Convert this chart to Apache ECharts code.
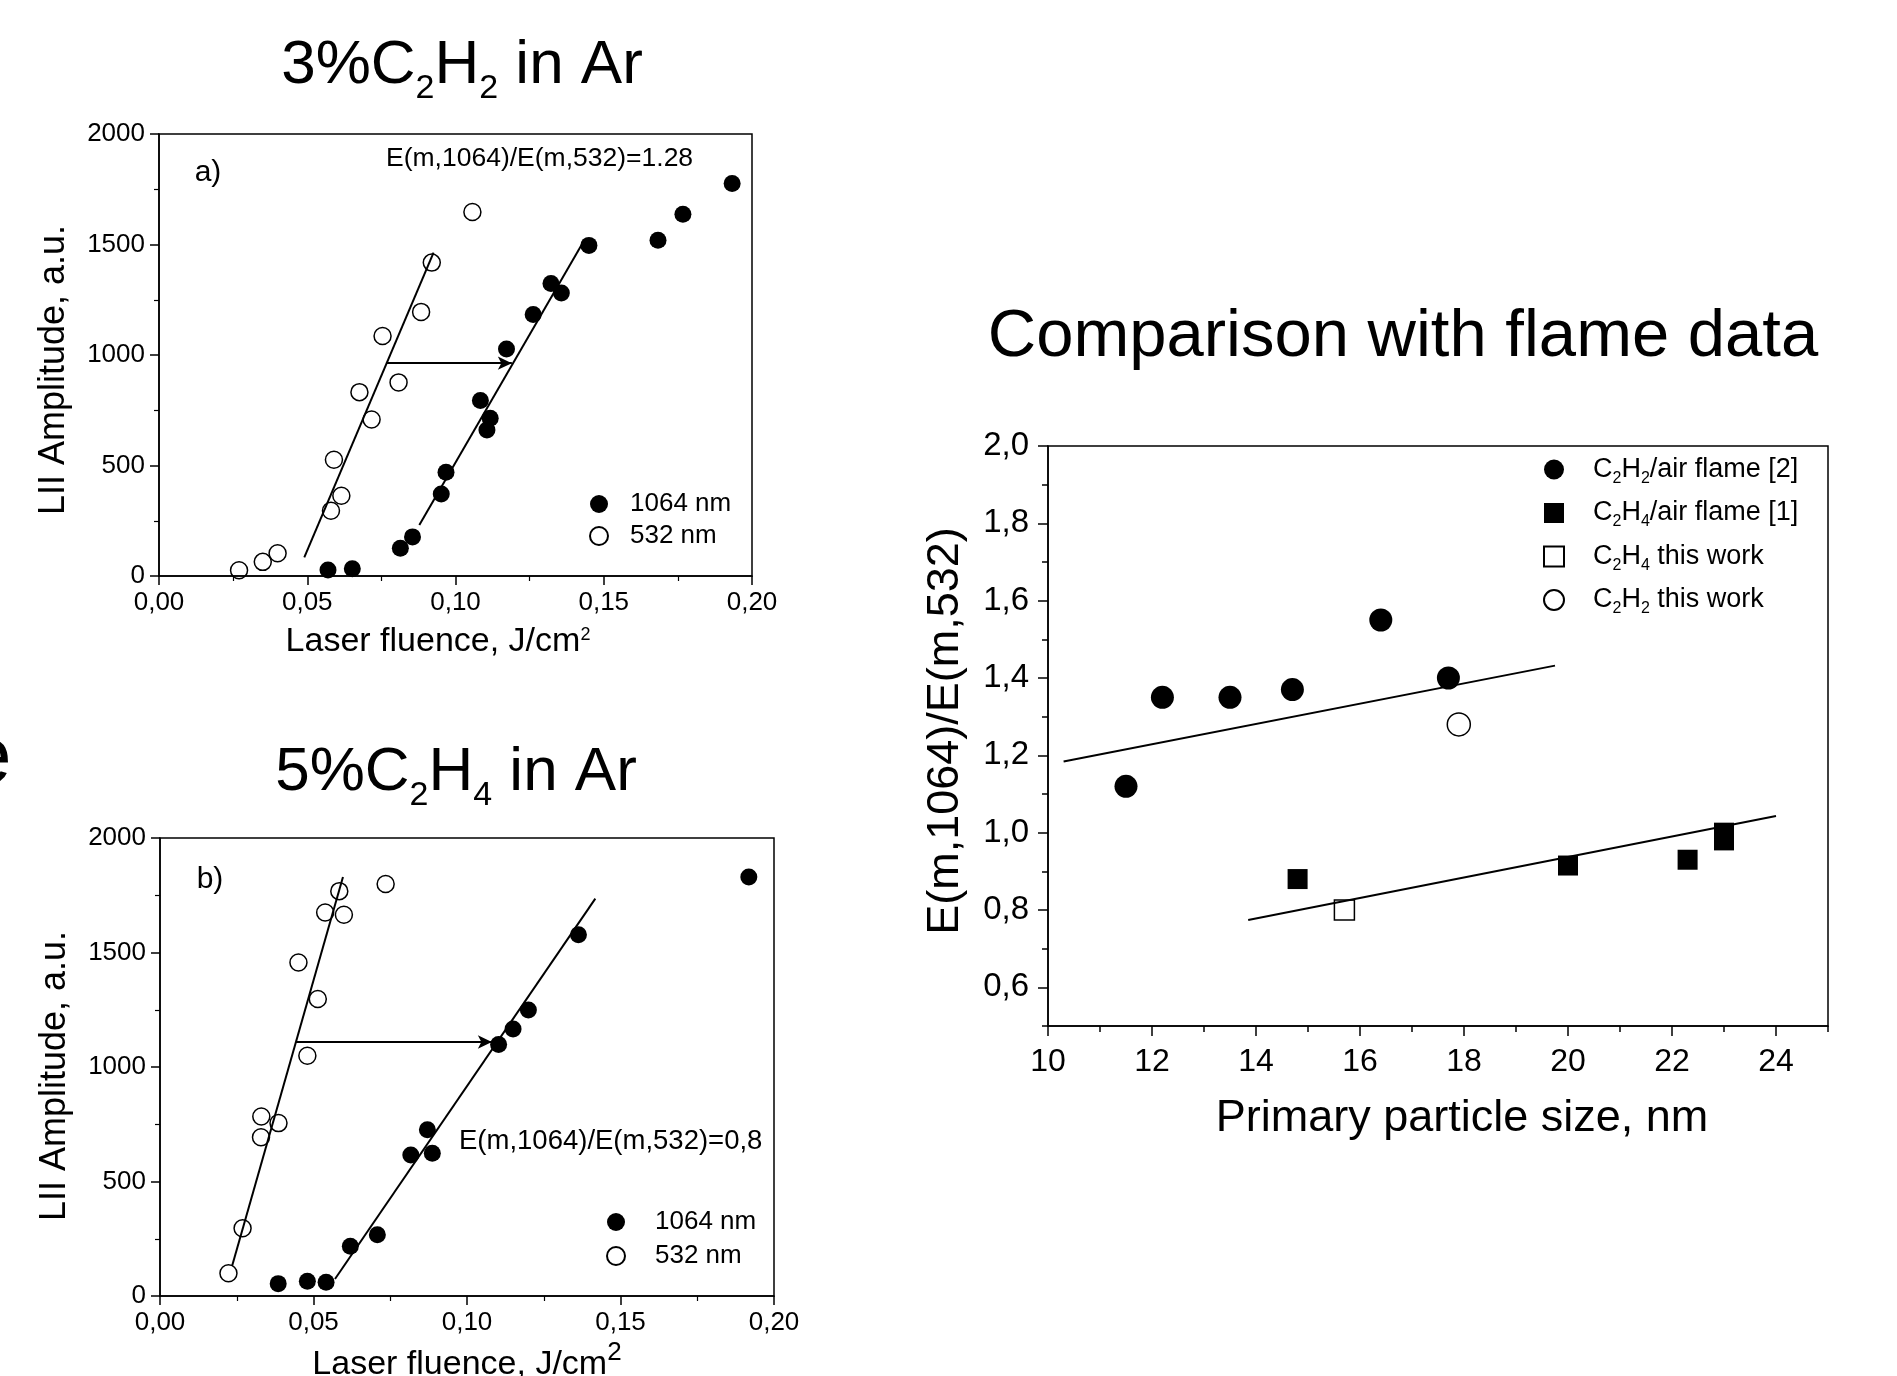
<!DOCTYPE html>
<html>
<head>
<meta charset="utf-8">
<title>LII amplitude and E(m) ratio</title>
<script src="https://cdn.jsdelivr.net/npm/echarts@6.0.0/dist/echarts.min.js"></script>
<style>
  html, body { margin: 0; padding: 0; background: #fff; }
  #main { width: 1897px; height: 1376px; }
</style>
</head>
<body>
<div id="main"></div>
<script>
// a) 3%C2H2 in Ar
const aFluence532 = [0.027, 0.035, 0.040, 0.058, 0.0615, 0.059, 0.0717, 0.0676, 0.0808, 0.0754, 0.0884, 0.092, 0.1057];
const aAmp532 = [26, 64, 103, 295, 363, 526, 708, 832, 876, 1086, 1195, 1418, 1647];
const aFluence1064 = [0.057, 0.0652, 0.0814, 0.0855, 0.0952, 0.0968, 0.1106, 0.1117, 0.1084, 0.1172, 0.1262, 0.1322, 0.1357, 0.145, 0.1683, 0.1767, 0.1933];
const aAmp1064 = [27, 33, 126, 177, 371, 469, 661, 714, 794, 1027, 1183, 1324, 1281, 1496, 1519, 1637, 1776];
const aFit532 = [[0.049, 84], [0.0926, 1463]];
const aFit1064 = [[0.0878, 231], [0.1426, 1500]];
const aArrow = [[0.0766, 963], [0.119, 963]];

// b) 5%C2H4 in Ar
const bFluence532 = [0.0223, 0.0269, 0.0329, 0.0330, 0.0386, 0.0480, 0.0451, 0.0514, 0.0538, 0.0599, 0.0584, 0.0735];
const bAmp532 = [99, 296, 693, 784, 755, 1049, 1456, 1297, 1675, 1665, 1768, 1799];
const bFluence1064 = [0.0385, 0.048, 0.0541, 0.062, 0.0708, 0.0817, 0.0871, 0.0887, 0.1103, 0.115, 0.12, 0.1363, 0.1918];
const bAmp1064 = [54, 64, 60, 217, 267, 616, 726, 623, 1098, 1166, 1249, 1578, 1830];
const bFit532 = [[0.0235, 132], [0.0596, 1830]];
const bFit1064 = [[0.057, 74], [0.1418, 1735]];
const bArrow = [[0.0443, 1109], [0.1081, 1109]];

// c) comparison with flame data
const cC2H2FlameSize = [11.5, 12.2, 13.5, 14.7, 16.4, 17.7];
const cC2H2FlameRatio = [1.12, 1.35, 1.35, 1.37, 1.55, 1.40];
const cC2H4FlameSize = [14.8, 20.0, 22.3, 23.0, 23.0];
const cC2H4FlameRatio = [0.88, 0.915, 0.93, 0.98, 1.0];
const cC2H4WorkSize = [15.7];
const cC2H4WorkRatio = [0.80];
const cC2H2WorkSize = [17.9];
const cC2H2WorkRatio = [1.28];
const cFitUpper = [[10.3, 1.184], [19.75, 1.432]];
const cFitLower = [[13.85, 0.774], [24.0, 1.043]];

const cTickX = [10, 12, 14, 16, 18, 20, 22, 24];
const cTickY = [0.6, 0.8, 1.0, 1.2, 1.4, 1.6, 1.8, 2.0];
const cLegendNames = ['C2H2/air flame [2]', 'C2H4/air flame [1]', 'C2H4 this work', 'C2H2 this work'];

const font = 'Liberation Sans, Arial, Helvetica, sans-serif';

function pairs(xs, ys) {
    return xs.map((x, i) => [x, ys[i]]);
}

const black = { color: '#000', width: 1.5 };

function fluenceAxis(gridIndex) {
    return {
        gridIndex: gridIndex, type: 'value', position: 'bottom',
        min: 0, max: 0.2, interval: 0.05,
        axisLine: { show: true, onZero: false, lineStyle: black },
        axisTick: { show: true, inside: false, length: 9, lineStyle: black },
        minorTick: { show: true, splitNumber: 2, length: 5, lineStyle: { color: '#000', width: 1.2 } },
        splitLine: { show: false },
        axisLabel: {
            color: '#000', fontSize: 26, fontFamily: font, margin: 14,
            formatter: v => v.toFixed(2).replace('.', ',')
        }
    };
}

function amplitudeAxis(gridIndex) {
    return {
        gridIndex: gridIndex, type: 'value', position: 'left',
        min: 0, max: 2000, interval: 500,
        axisLine: { show: true, onZero: false, lineStyle: black },
        axisTick: { show: true, inside: false, length: 9, lineStyle: black },
        minorTick: { show: true, splitNumber: 2, length: 5, lineStyle: { color: '#000', width: 1.2 } },
        splitLine: { show: false },
        axisLabel: { color: '#000', fontSize: 26, fontFamily: font, margin: 14, formatter: v => String(v) }
    };
}

function filled(name, data, axis, size, symbol) {
    return {
        name: name, type: 'scatter', xAxisIndex: axis, yAxisIndex: axis,
        data: data, symbol: symbol || 'circle', symbolSize: size, z: 3,
        itemStyle: { color: '#000', opacity: 1 }
    };
}

function hollow(name, data, axis, size, symbol) {
    return {
        name: name, type: 'scatter', xAxisIndex: axis, yAxisIndex: axis,
        data: data, symbol: symbol || 'circle', symbolSize: size, z: 3,
        itemStyle: { color: 'rgba(255,255,255,0)', borderColor: '#000', borderWidth: 1.5, opacity: 1 }
    };
}

function fitLine(data, axis, arrow) {
    let s = {
        type: 'line', xAxisIndex: axis, yAxisIndex: axis,
        data: data, showSymbol: false, silent: true, z: 2,
        lineStyle: { color: '#000', width: 2 }
    };
    if (arrow) {
        s.markLine = {
            silent: true, symbol: ['none', 'arrow'], symbolSize: [10, 14],
            label: { show: false },
            lineStyle: { color: '#000', width: 2, type: 'solid' },
            data: [[{ coord: arrow[0] }, { coord: arrow[1] }]]
        };
    }
    return s;
}

function plainText(x, y, text, size, align, rotation) {
    return {
        type: 'text', x: x, y: y, silent: true, rotation: rotation || 0,
        style: { text: text, fontSize: size, fontFamily: font, fill: '#000', align: align || 'center', verticalAlign: 'middle' }
    };
}

function richText(x, y, text, rich) {
    return {
        type: 'text', x: x, y: y, silent: true,
        style: { text: text, fontFamily: font, fill: '#000', align: 'center', verticalAlign: 'middle', rich: rich }
    };
}

const titleRich = {
    n: { fontSize: 62, fontFamily: font, fill: '#000' },
    s: { fontSize: 34, fontFamily: font, fill: '#000', padding: [46, 0, 0, 0] }
};

var myChart = echarts.init(document.getElementById('main'));

var option = {
    animation: false,
    backgroundColor: '#fff',
    grid: [
        { left: 159, top: 134, width: 593, height: 442, show: true, borderColor: '#000', borderWidth: 1.5 },
        { left: 160, top: 838, width: 614, height: 458, show: true, borderColor: '#000', borderWidth: 1.5 },
        { left: 1048, top: 446, width: 780, height: 580, show: true, borderColor: '#000', borderWidth: 1.5 }
    ],
    xAxis: [
        fluenceAxis(0),
        fluenceAxis(1),
        {
            gridIndex: 2, type: 'value', position: 'bottom', min: 10, max: 25, interval: 1,
            axisLine: { show: true, onZero: false, lineStyle: black },
            axisTick: { show: true, inside: false, length: 6, lineStyle: black },
            axisLabel: { show: false },
            splitLine: { show: false }
        },
        {
            gridIndex: 2, type: 'value', position: 'bottom', min: 10, max: 25,
            axisLine: { show: false },
            axisTick: { show: true, inside: false, length: 10, customValues: cTickX, lineStyle: black },
            axisLabel: { color: '#000', fontSize: 32, fontFamily: font, margin: 20, customValues: cTickX },
            splitLine: { show: false }
        }
    ],
    yAxis: [
        amplitudeAxis(0),
        amplitudeAxis(1),
        {
            gridIndex: 2, type: 'value', position: 'left', min: 0.5, max: 2.0, interval: 0.1,
            axisLine: { show: true, onZero: false, lineStyle: black },
            axisTick: { show: true, inside: false, length: 6, lineStyle: black },
            axisLabel: { show: false },
            splitLine: { show: false }
        },
        {
            gridIndex: 2, type: 'value', position: 'left', min: 0.5, max: 2.0,
            axisLine: { show: false },
            axisTick: { show: true, inside: false, length: 10, customValues: cTickY, lineStyle: black },
            axisLabel: {
                color: '#000', fontSize: 33, fontFamily: font, margin: 19, customValues: cTickY,
                formatter: v => v.toFixed(1).replace('.', ',')
            },
            splitLine: { show: false }
        }
    ],
    legend: [
        {
            data: ['1064 nm', '532 nm'], orient: 'vertical', left: 584, top: 486,
            itemWidth: 52, itemHeight: 18, itemGap: 6, selectedMode: false,
            textStyle: { color: '#000', fontSize: 26, fontFamily: font, lineHeight: 26 }
        },
        {
            data: ['1064 nm', '532 nm'], orient: 'vertical', left: 601, top: 1204,
            itemWidth: 68, itemHeight: 18, itemGap: 8, selectedMode: false,
            textStyle: { color: '#000', fontSize: 26, fontFamily: font, lineHeight: 26 }
        },
        {
            data: cLegendNames, orient: 'vertical', left: 1543, top: 456, padding: 0,
            itemWidth: 20, itemHeight: 20, itemGap: 13, selectedMode: false,
            formatter: name => '{g| }' + name.replace(/C2H(\d)/, '{n|C}{s|2}{n|H}{s|$1}{n|') + '}',
            textStyle: {
                color: '#000', fontSize: 27, fontFamily: font,
                rich: {
                    g: { width: 24, fontSize: 27 },
                    n: { fontSize: 27, fontFamily: font, color: '#000', lineHeight: 34 },
                    s: { fontSize: 16, fontFamily: font, color: '#000', padding: [18, 0, 0, 0] }
                }
            }
        }
    ],
    series: [
        fitLine(aFit532, 0, aArrow),
        fitLine(aFit1064, 0),
        filled('1064 nm', pairs(aFluence1064, aAmp1064), 0, 17),
        hollow('532 nm', pairs(aFluence532, aAmp532), 0, 17),

        fitLine(bFit532, 1, bArrow),
        fitLine(bFit1064, 1),
        filled('1064 nm', pairs(bFluence1064, bAmp1064), 1, 17),
        hollow('532 nm', pairs(bFluence532, bAmp532), 1, 17),

        fitLine(cFitUpper, 2),
        fitLine(cFitLower, 2),
        filled(cLegendNames[0], pairs(cC2H2FlameSize, cC2H2FlameRatio), 2, 23),
        filled(cLegendNames[1], pairs(cC2H4FlameSize, cC2H4FlameRatio), 2, 20, 'rect'),
        hollow(cLegendNames[2], pairs(cC2H4WorkSize, cC2H4WorkRatio), 2, 20, 'rect'),
        hollow(cLegendNames[3], pairs(cC2H2WorkSize, cC2H2WorkRatio), 2, 23)
    ],
    graphic: [
        // titles
        richText(462, 66, '{n|3%C}{s|2}{n|H}{s|2}{n| in Ar}', titleRich),
        richText(456, 773, '{n|5%C}{s|2}{n|H}{s|4}{n| in Ar}', titleRich),
        plainText(1403, 338, 'Comparison with flame data', 67),
        // cut-off letter at the left edge
        plainText(-33, 760, 'e', 80, 'left'),

        // axis names
        plainText(54, 370, 'LII Amplitude, a.u.', 36, 'center', Math.PI / 2),
        plainText(55, 1076, 'LII Amplitude, a.u.', 36, 'center', Math.PI / 2),
        plainText(946, 731, 'E(m,1064)/E(m,532)', 45, 'center', Math.PI / 2),
        richText(438, 642, '{n|Laser fluence, J/cm}{p|2}', {
            n: { fontSize: 34, fontFamily: font, fill: '#000' },
            p: { fontSize: 18, fontFamily: font, fill: '#000', padding: [0, 0, 14, 0] }
        }),
        richText(467, 1365, '{n|Laser fluence, J/cm}{p|2}', {
            n: { fontSize: 34, fontFamily: font, fill: '#000' },
            p: { fontSize: 26, fontFamily: font, fill: '#000', padding: [0, 0, 24, 0] }
        }),
        plainText(1462, 1119, 'Primary particle size, nm', 45),

        // annotations
        plainText(208, 173, 'a)', 30),
        plainText(210, 880, 'b)', 30),
        plainText(386, 159, 'E(m,1064)/E(m,532)=1.28', 26.5, 'left'),
        plainText(459, 1141, 'E(m,1064)/E(m,532)=0,8', 27.5, 'left')
    ]
};

myChart.setOption(option);
window.addEventListener('resize', myChart.resize);
</script>
</body>
</html>
